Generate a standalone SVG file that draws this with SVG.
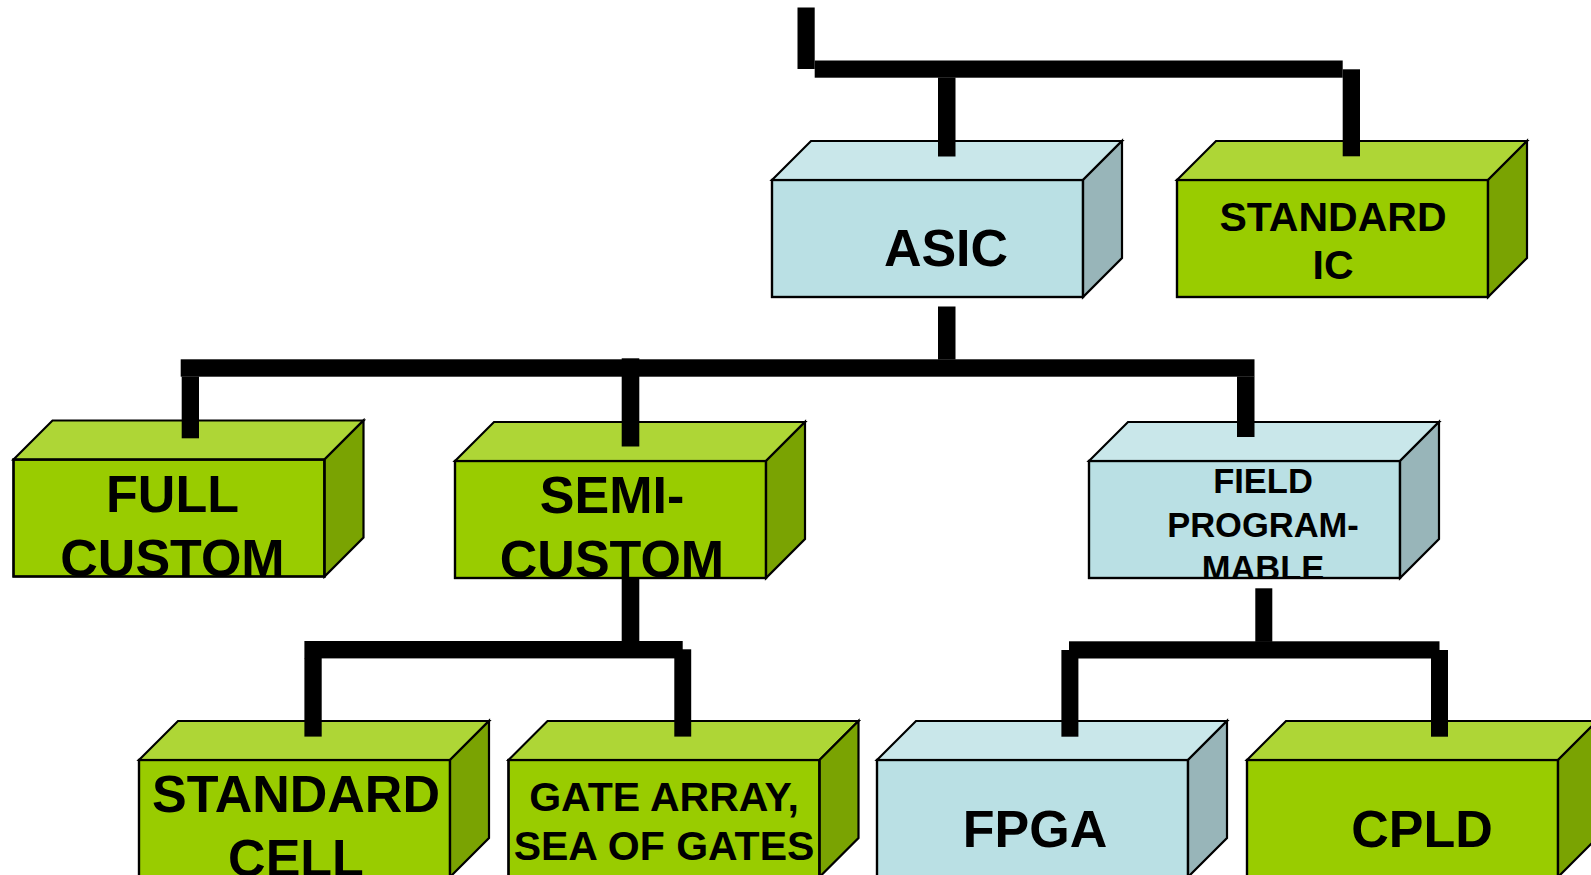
<svg xmlns="http://www.w3.org/2000/svg" width="1591" height="875" viewBox="0 0 1591 875">
  <style>
    .face { stroke: #000; stroke-width: 2.2; stroke-linejoin: miter; }
    .green .front { fill: #99CC00; }
    .green .top { fill: #AED636; }
    .green .side { fill: #7AA302; }
    .blue .front { fill: #BAE0E4; }
    .blue .top { fill: #C9E7EA; }
    .blue .side { fill: #98B5B9; }
    .edge { fill: none; stroke: #000; stroke-width: 2.2; }
    .label { font-family: "Liberation Sans", Arial, sans-serif; font-weight: bold; fill: #000; text-anchor: middle; }
    .big { font-size: 52px; }
    .mid { font-size: 41px; }
    .small { font-size: 34.5px; }
    .bar { fill: #000; }
  </style>
  <defs>
    <!-- text area of a block's front face (311 x 117, in block coordinates) -->
    <clipPath id="front-clip">
      <rect x="0" y="0" width="311" height="117"/>
    </clipPath>
  </defs>

  <rect x="0" y="0" width="1591" height="875" fill="#fff"/>

  <!-- nodes: each block has its front face at the local origin, depth 39 -->
  <g id="asic" class="blue" transform="translate(772,180)">
    <rect class="face front" width="311" height="117"/>
    <polygon class="face top" points="0,0 39,-39 350,-39 311,0"/>
    <polygon class="face side" points="311,0 350,-39 350,78 311,117"/>
    <g clip-path="url(#front-clip)">
      <text class="label big" x="174" y="86">ASIC</text>
    </g>
    <rect class="edge" width="311" height="117"/>
  </g>

  <g id="standard-ic" class="green" transform="translate(1177,180)">
    <rect class="face front" width="311" height="117"/>
    <polygon class="face top" points="0,0 39,-39 350,-39 311,0"/>
    <polygon class="face side" points="311,0 350,-39 350,78 311,117"/>
    <g clip-path="url(#front-clip)">
      <text class="label mid" x="156" y="51">STANDARD</text>
      <text class="label mid" x="156" y="99">IC</text>
    </g>
    <rect class="edge" width="311" height="117"/>
  </g>

  <g id="full-custom" class="green" transform="translate(13.5,459.5)">
    <rect class="face front" width="311" height="117"/>
    <polygon class="face top" points="0,0 39,-39 350,-39 311,0"/>
    <polygon class="face side" points="311,0 350,-39 350,78 311,117"/>
    <g clip-path="url(#front-clip)">
      <text class="label big" x="159" y="52">FULL</text>
      <text class="label big" x="159" y="116.5">CUSTOM</text>
    </g>
    <rect class="edge" width="311" height="117"/>
  </g>

  <g id="semi-custom" class="green" transform="translate(455,461)">
    <rect class="face front" width="311" height="117"/>
    <polygon class="face top" points="0,0 39,-39 350,-39 311,0"/>
    <polygon class="face side" points="311,0 350,-39 350,78 311,117"/>
    <g clip-path="url(#front-clip)">
      <text class="label big" x="157" y="51.5">SEMI-</text>
      <text class="label big" x="157" y="116">CUSTOM</text>
    </g>
    <rect class="edge" width="311" height="117"/>
  </g>

  <g id="field-programmable" class="blue" transform="translate(1089,461)">
    <rect class="face front" width="311" height="117"/>
    <polygon class="face top" points="0,0 39,-39 350,-39 311,0"/>
    <polygon class="face side" points="311,0 350,-39 350,78 311,117"/>
    <g clip-path="url(#front-clip)">
      <text class="label small" x="174" y="32">FIELD</text>
      <text class="label small" x="174" y="75.5">PROGRAM-</text>
      <text class="label small" x="174" y="119">MABLE</text>
    </g>
    <rect class="edge" width="311" height="117"/>
  </g>

  <g id="standard-cell" class="green" transform="translate(139,760)">
    <rect class="face front" width="311" height="117"/>
    <polygon class="face top" points="0,0 39,-39 350,-39 311,0"/>
    <polygon class="face side" points="311,0 350,-39 350,78 311,117"/>
    <g clip-path="url(#front-clip)">
      <text class="label big" x="157" y="52">STANDARD</text>
      <text class="label big" x="157" y="116">CELL</text>
    </g>
    <rect class="edge" width="311" height="117"/>
  </g>

  <g id="gate-array" class="green" transform="translate(508.5,760)">
    <rect class="face front" width="311" height="117"/>
    <polygon class="face top" points="0,0 39,-39 350,-39 311,0"/>
    <polygon class="face side" points="311,0 350,-39 350,78 311,117"/>
    <g clip-path="url(#front-clip)">
      <text class="label mid" x="155.5" y="51">GATE ARRAY,</text>
      <text class="label mid" x="155.5" y="99.5">SEA OF GATES</text>
    </g>
    <rect class="edge" width="311" height="117"/>
  </g>

  <g id="fpga" class="blue" transform="translate(877,760)">
    <rect class="face front" width="311" height="117"/>
    <polygon class="face top" points="0,0 39,-39 350,-39 311,0"/>
    <polygon class="face side" points="311,0 350,-39 350,78 311,117"/>
    <g clip-path="url(#front-clip)">
      <text class="label big" x="158" y="87">FPGA</text>
    </g>
    <rect class="edge" width="311" height="117"/>
  </g>

  <g id="cpld" class="green" transform="translate(1247,760)">
    <rect class="face front" width="311" height="117"/>
    <polygon class="face top" points="0,0 39,-39 350,-39 311,0"/>
    <polygon class="face side" points="311,0 350,-39 350,78 311,117"/>
    <g clip-path="url(#front-clip)">
      <text class="label big" x="175" y="87">CPLD</text>
    </g>
    <rect class="edge" width="311" height="117"/>
  </g>

  <!-- connectors: thick black tree bars -->
  <g id="connectors">
    <!-- root -> ASIC / STANDARD IC -->
    <rect class="bar" x="797.5" y="7.5" width="17.2" height="61.5"/>
    <rect class="bar" x="814.7" y="60.5" width="528" height="17.2"/>
    <rect class="bar" x="938" y="77.5" width="17.5" height="79"/>
    <rect class="bar" x="1342.7" y="69.3" width="17.3" height="87"/>

    <!-- ASIC -> FULL CUSTOM / SEMI-CUSTOM / FIELD PROGRAMMABLE -->
    <rect class="bar" x="938" y="306.5" width="17.5" height="53"/>
    <rect class="bar" x="180.7" y="359.3" width="1073.8" height="17.4"/>
    <rect class="bar" x="181.7" y="376.5" width="17.3" height="61.8"/>
    <rect class="bar" x="621.7" y="358.3" width="17.6" height="88.2"/>
    <rect class="bar" x="1237" y="376.5" width="17.5" height="60.5"/>

    <!-- SEMI-CUSTOM -> STANDARD CELL / GATE ARRAY -->
    <rect class="bar" x="621.7" y="578" width="17.6" height="63.5"/>
    <rect class="bar" x="304.4" y="641" width="378.3" height="17.4"/>
    <rect class="bar" x="304.4" y="658" width="17.3" height="78.6"/>
    <rect class="bar" x="674.3" y="649.3" width="16.9" height="87.3"/>

    <!-- FIELD PROGRAMMABLE -> FPGA / CPLD -->
    <rect class="bar" x="1255.3" y="588.3" width="17" height="53.5"/>
    <rect class="bar" x="1069" y="641.3" width="370.5" height="17.2"/>
    <rect class="bar" x="1061.4" y="650" width="17" height="86.7"/>
    <rect class="bar" x="1431" y="650" width="17" height="86.7"/>
  </g>
</svg>
